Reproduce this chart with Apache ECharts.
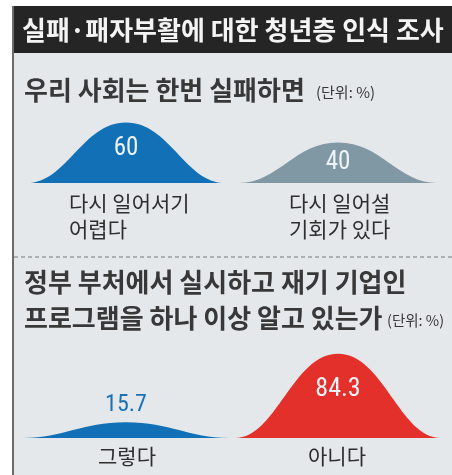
<!DOCTYPE html>
<html>
<head>
<meta charset="utf-8">
<script src="https://cdn.jsdelivr.net/npm/echarts@6/dist/echarts.min.js"></script>
<style>
html,body{margin:0;padding:0;background:#fff;}
#c{width:452px;height:475px;}
</style>
</head>
<body>
<div id="c"></div>
<script>
// ---- data ----
const chartTitle = '실패·패자부활에 대한 청년층 인식 조사';
const panel1Title = '우리 사회는 한번 실패하면';
const panel2TitleLines = ['정부 부처에서 실시하고 재기 기업인', '프로그램을 하나 이상 알고 있는가'];
const unitText = '(단위: %)';
const panel1Categories = ['다시 일어서기\n어렵다', '다시 일어설\n기회가 있다'];
const panel1Values = [60, 40];
const panel2Categories = ['그렇다', '아니다'];
const panel2Values = [15.7, 84.3];

// ---- styles ----
const KR = '"Noto Sans CJK KR", "Noto Sans", sans-serif';
const NUM = '"Liberation Sans Narrow", "Roboto Condensed", Roboto, "Liberation Sans", sans-serif';
const bell = 'path://M0,100 C20,100 28,0 50,0 C72,0 80,100 100,100 Z';
const panel1Colors = ['#1170b6', '#7f98a3'];
const panel2Colors = ['#1170b6', '#e3302b'];

function labelFor(v, i, panel) {
  if (panel === 2 && i === 0) {
    return {show: true, position: 'top', distance: 5, color: '#1a72b5', fontSize: 24, fontFamily: NUM, formatter: '{c}'};
  }
  return {show: true, position: 'inside', offset: [0, panel === 2 ? -6 : (i === 0 ? -4 : 0)],
    color: '#eef4f8', fontSize: panel === 2 ? 26 : 25, fontFamily: NUM, formatter: '{c}'};
}

const chart = echarts.init(document.getElementById('c'), null, {renderer: 'canvas'});

const grids = [
  {left: 20, width: 424, top: 82, height: 101},
  {left: 20, width: 424, top: 338, height: 100}
];

const option = {
  backgroundColor: '#ffffff',
  animation: false,
  grid: grids,
  xAxis: [
    {type: 'category', gridIndex: 0, data: panel1Categories, show: false},
    {type: 'category', gridIndex: 1, data: panel2Categories, show: false}
  ],
  yAxis: [
    {type: 'value', gridIndex: 0, min: 0, max: 100, show: false},
    {type: 'value', gridIndex: 1, min: 0, max: 100, show: false}
  ],
  series: [
    {
      type: 'pictorialBar', xAxisIndex: 0, yAxisIndex: 0,
      symbol: bell, symbolSize: [198, '100%'], symbolPosition: 'start',
      data: panel1Values.map((v, i) => ({value: v, itemStyle: {color: panel1Colors[i]}, label: labelFor(v, i, 1)}))
    },
    {
      type: 'pictorialBar', xAxisIndex: 1, yAxisIndex: 1,
      symbol: bell, symbolSize: [206, '100%'], symbolPosition: 'start',
      data: panel2Values.map((v, i) => ({value: v, itemStyle: {color: panel2Colors[i]}, label: labelFor(v, i, 2)}))
    }
  ],
  graphic: [
    {type: 'rect', z: -10, shape: {x: 14, y: 6, width: 438, height: 469}, style: {fill: '#e4e8eb'}},
    {type: 'rect', z: -9, shape: {x: 14, y: 6, width: 438, height: 47}, style: {fill: '#252525'}},
    {type: 'rect', z: -9, shape: {x: 12, y: 6, width: 2, height: 469}, style: {fill: '#6b6b6b'}},
    {type: 'text', x: 22, y: 30, style: {text: chartTitle, fill: '#f4f4f4', fontSize: 26, fontWeight: 'bold', fontFamily: KR, verticalAlign: 'middle', align: 'left'}},
    {type: 'text', x: 24, y: 90, style: {text: panel1Title, fill: '#383838', fontSize: 26, fontWeight: 'bold', fontFamily: KR, verticalAlign: 'middle'}},
    {type: 'text', x: 316, y: 92, style: {text: unitText, fill: '#383838', fontSize: 15, fontFamily: KR, verticalAlign: 'middle'}},
    {type: 'text', x: 69, y: 190, style: {text: panel1Categories[0], fill: '#2e2e2e', fontSize: 21, lineHeight: 26, fontFamily: KR, verticalAlign: 'top', align: 'left'}},
    {type: 'text', x: 289, y: 190, style: {text: panel1Categories[1], fill: '#2e2e2e', fontSize: 21, lineHeight: 26, fontFamily: KR, verticalAlign: 'top', align: 'left'}},
    {type: 'line', shape: {x1: 14, y1: 257, x2: 452, y2: 257}, style: {stroke: '#9a9da0', lineWidth: 1.5, lineDash: [4, 3]}},
    {type: 'text', x: 24, y: 282, style: {text: panel2TitleLines[0], fill: '#383838', fontSize: 26, fontWeight: 'bold', fontFamily: KR, verticalAlign: 'middle'}},
    {type: 'text', x: 24, y: 318, style: {text: panel2TitleLines[1], fill: '#383838', fontSize: 26, fontWeight: 'bold', fontFamily: KR, verticalAlign: 'middle'}},
    {type: 'text', x: 387, y: 320, style: {text: unitText, fill: '#383838', fontSize: 14.5, fontFamily: KR, verticalAlign: 'middle'}},
    {type: 'text', x: 127, y: 456, style: {text: panel2Categories[0], fill: '#2e2e2e', fontSize: 21, fontFamily: KR, verticalAlign: 'middle', align: 'center'}},
    {type: 'text', x: 337, y: 456, style: {text: panel2Categories[1], fill: '#2e2e2e', fontSize: 21, fontFamily: KR, verticalAlign: 'middle', align: 'center'}}
  ]
};
chart.setOption(option);
</script>
</body>
</html>
